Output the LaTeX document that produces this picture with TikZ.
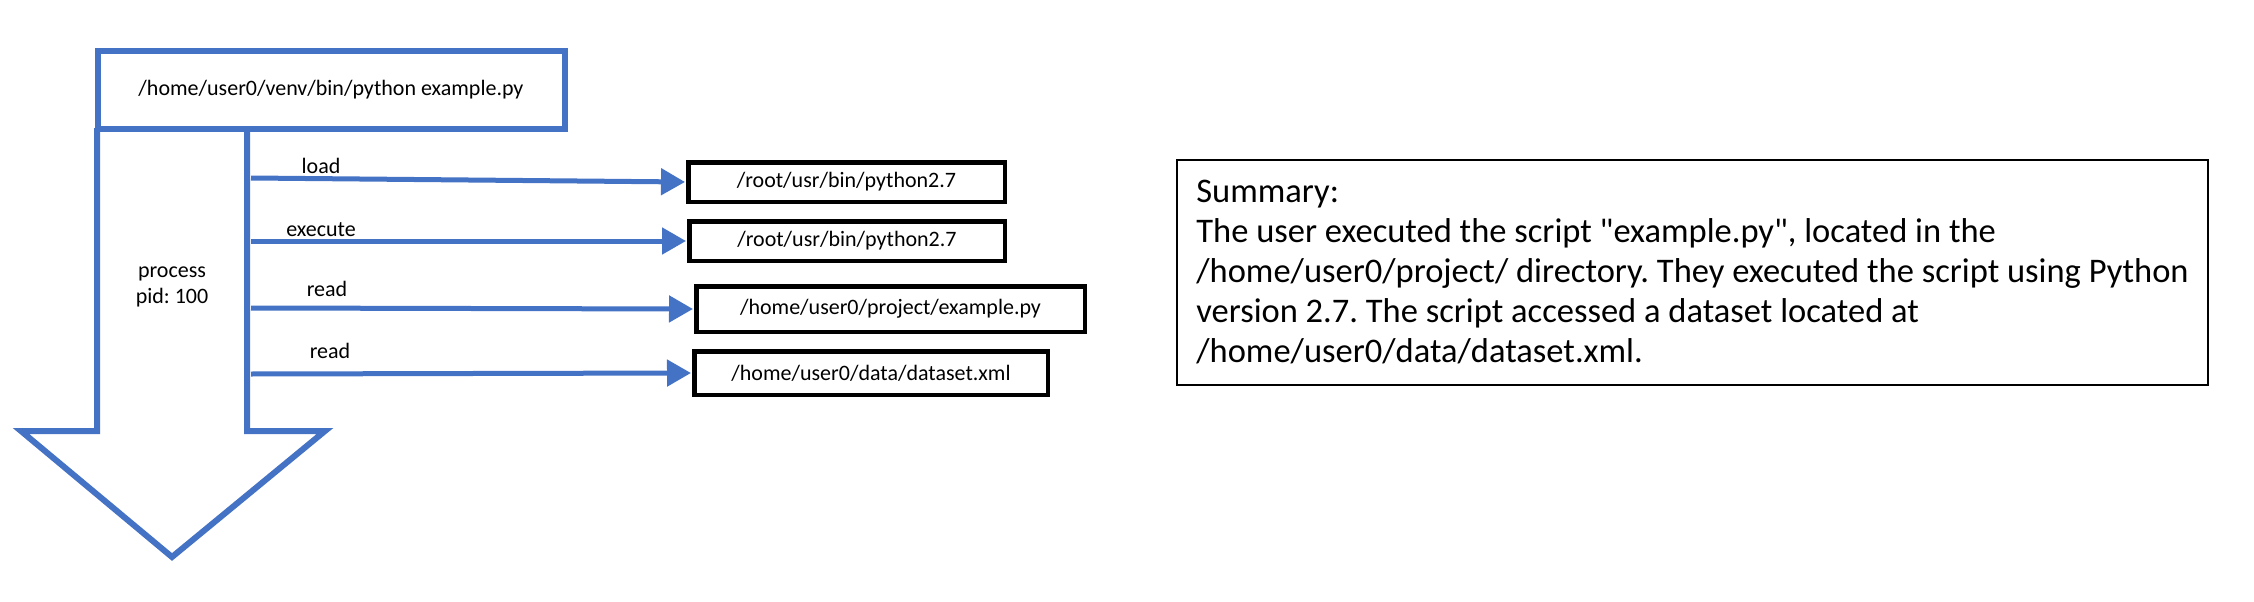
\documentclass[tikz,border=0pt]{standalone}
\usepackage{fontspec}
\setmainfont{Carlito}[Ligatures=TeXOff]
\usetikzlibrary{arrows.meta}
\definecolor{ublue}{HTML}{4472C4}
\frenchspacing
\begin{document}
\begin{tikzpicture}[x=1pt,y=-1pt,
  procbox/.style={draw=ublue, line width=6pt, minimum width=467pt, minimum height=77pt, inner sep=0pt, font=\fontsize{22}{26}\selectfont},
  filebox/.style={draw=black, line width=4.5pt, inner sep=0pt, font=\fontsize{22}{26}\selectfont},
  flow/.style={draw=ublue, line width=5pt, shorten >=1pt, -{Triangle[length=24pt,width=26pt]}},
  lbl/.style={font=\fontsize{22}{26}\selectfont, inner sep=0pt},
  bigarrow/.style={draw=ublue, line width=6pt, line join=miter},
  sumbox/.style={draw=black, line width=2.5pt, minimum width=1031pt, minimum height=225pt, inner sep=0pt, align=left, font=\fontsize{34.5}{40}\selectfont}]
\useasboundingbox (0,0) rectangle (2254,602);
% process box
\node[procbox] (top) at (331,90) {/home/user0/venv/bin/python example.py};
% big down arrow
\draw[bigarrow] (97,128) -- (97,431) -- (21,431) -- (172,557) -- (325,431) -- (247,431) -- (247,128);
\node[lbl, align=center] (proc) at (172,287) {process\\pid: 100};
% file boxes
\node[filebox, minimum width=316.5pt, minimum height=39.5pt] (f1) at (846.5,182) {/root/usr/bin/python2.7};
\node[filebox, minimum width=315.5pt, minimum height=39.5pt] (f2) at (847,241) {/root/usr/bin/python2.7};
\node[filebox, minimum width=388.5pt, minimum height=45.5pt] (f3) at (890.5,309) {/home/user0/project/example.py};
\node[filebox, minimum width=353.5pt, minimum height=43.5pt] (f4) at (871,373) {/home/user0/data/dataset.xml};
% arrow starts
\coordinate (s1) at (251,178);
\coordinate (s2) at (251,241);
\coordinate (s3) at (251,308);
\coordinate (s4) at (251,374);
\draw[flow] (s1) -- (f1.west);
\draw[flow] (s2) -- (f2.west);
\draw[flow] (s3) -- (f3.west);
\draw[flow] (s4) -- (f4.west);
% labels
\node[lbl] (l1) at (321,166) {load};
\node[lbl] (l2) at (321,230) {execute};
\node[lbl] (l3) at (327,289) {read};
\node[lbl] (l4) at (330,351) {read};
% summary
\node[sumbox] (sum) at (1692.5,272.5) {Summary:\\
The user executed the script "example.py", located in the\\
/home/user0/project/ directory. They executed the script using Python\\
version 2.7. The script accessed a dataset located at\\
/home/user0/data/dataset.xml.};
\end{tikzpicture}
\end{document}
